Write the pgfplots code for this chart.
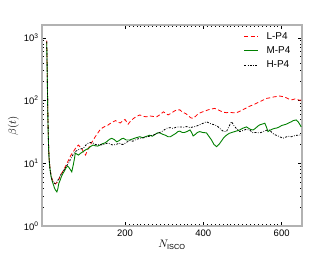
\documentclass[border=0pt]{standalone}
\usepackage{fontspec}
\setmainfont{Liberation Sans}
\usepackage{pgfplots}
\pgfplotsset{compat=1.18}
\definecolor{mplgreen}{rgb}{0,0.5,0}
\begin{document}
\begin{tikzpicture}
\begin{axis}[
  scale only axis, width=260bp, height=201bp,
  ymode=log, xmin=-12, xmax=652, ymin=1, ymax=1600,
  xtick={200,400,600}, minor x tick num=19,
  ytick={1,10,100,1000},
  yticklabels={10\textsuperscript{0},10\textsuperscript{1},10\textsuperscript{2},10\textsuperscript{3}},
  tick align=inside, ticks=both,
  major tick length=4bp, minor tick length=2bp,
  every tick/.style={black, line width=0.5pt},
  axis line style={gray!60, line width=1.3pt},
  tick label style={font=\fontsize{9.5}{11}\selectfont},
  /pgf/number format/assume math mode=true,
  xlabel={$N_{\rm ISCO}$}, ylabel={$\beta(t)$},
  label style={font=\fontsize{10.5}{12}\selectfont},
  xlabel style={yshift=3bp},
  ylabel style={yshift=-2bp},
  legend style={draw=none, fill=none, at={(0.975,0.985)}, anchor=north east,
    font=\fontsize{10}{12}\selectfont, row sep=2bp},
  legend cell align=left,
  legend image code/.code={\draw[#1] (0bp,0bp) -- (14bp,0bp); \path (20bp,0bp);},
]
\addplot[red, line width=0.8pt, dash pattern=on 4bp off 2.5bp] coordinates {
(0,900)(1,420)(2,160)(3,60)(4,30)(5,18)(6,12.5)(8,9)(11,6.5)(14,5.5)(18,5)(22,4.7)(26,4.9)(30,5.3)(36,6.5)(43,7.8)(50,9.5)(56,11.3)(62,13.5)(68,15.3)(74,17.5)(81,19.5)(86,18)(90,17)(95,14.5)(99,13.5)(104,16)(111,19.5)(118,23)(124,26.5)(130,30)(136,34)(143,37)(150,39)(155,40)(162,43)(170,46)(176,48)(182,45)(188,44)(195,48)(200,50)(208,42)(214,47)(222,52)(230,56)(238,59)(246,56)(255,55)(262,57)(270,56)(281,55)(290,60)(298,66)(305,62)(310,59)(318,63)(326,68)(333,71)(340,71)(347,65)(355,62)(362,57)(368,53)(374,52)(380,56)(385,60)(390,63)(398,66)(405,68)(412,71)(420,73)(429,75)(436,72)(444,68)(452,65)(459,64)(467,65)(475,64)(485,64)(492,67)(500,71)(508,75)(516,80)(522,83)(527,85)(535,90)(543,95)(550,100)(556,104)(561,108)(568,110)(575,112)(582,115)(589,116)(595,118)(601,116)(607,114)(613,110)(620,104)(627,103)(634,106)(640,104)(646,101)(650,102)
};
\addlegendentry{L-P4}
\addplot[mplgreen, line width=0.9pt] coordinates {
(0,850)(1,380)(2,140)(3,55)(4,28)(5,17)(6,12)(7,10)(9,7.5)(11.5,6)(14,5.2)(16,4.8)(20,4.0)(23,3.7)(26,3.5)(28,3.8)(31,4.8)(34,5.3)(37,6)(41,6.8)(45,7.5)(49,8.4)(53,9)(56,8.7)(60,8)(64,7.3)(68,9.5)(71,12)(73,14.5)(77,14)(81,13.5)(87,14.5)(94,15.5)(100,16.5)(106,17.1)(112,18.5)(118,19.5)(124,19)(130,18.8)(136,19.5)(142,20.5)(148,21)(153,22)(160,24)(166,25)(172,24)(179,22)(185,23)(191,24.5)(196,25)(203,23.5)(212,23.5)(220,24.5)(228,25.5)(238,26.5)(245,25.5)(252,26.5)(263,28)(270,27)(277,29)(283,30.5)(289,30.5)(296,29)(303,28)(310,26.5)(316,26.5)(322,28)(330,30)(335,32)(340,32.5)(346,31)(352,31)(358,32)(366,34)(370,31)(374,27.3)(380,29)(385,31)(391,32)(398,31)(408,30.5)(414,27)(421,23.5)(427,20)(434,18.4)(440,20)(446,22.5)(452,25.5)(459,28)(466,30)(473,31)(480,32)(487,33)(493,34)(500,36)(505,37)(510,38)(516,36)(521,34.5)(527,34)(533,36)(539,39)(544,41)(550,42)(557,43.5)(561,38)(565,32)(570,33.5)(576,35)(582,36)(588,36.5)(594,38)(600,40)(606,41)(612,42)(618,44)(625,46)(630,48)(637,49)(642,46)(646,42)(650,38)
};
\addlegendentry{M-P4}
\addplot[black, line width=0.8pt, dash pattern=on 2bp off 1.5bp on 0.7bp off 1.5bp] coordinates {
(0,880)(1,400)(2,150)(3,58)(4,29)(5,17.5)(6,12.3)(8,8.5)(11,6.3)(14,5.4)(18,4.9)(22,4.7)(26,5.0)(30,5.6)(36,6.6)(43,7.6)(50,9)(56,10)(62,12)(68,14)(74,15.5)(81,16.5)(88,17)(94,17.5)(100,19.5)(106,21)(112,21.5)(118,21)(124,20)(130,19.5)(136,20)(143,19.5)(150,20.5)(157,21)(163,20)(170,19.5)(178,20)(185,21)(191,20)(196,20)(203,21.5)(212,23)(220,22.5)(228,24)(238,25)(248,25.5)(256,26.5)(263,27)(270,28)(278,29)(285,30.5)(292,31.5)(300,34)(306,36)(315,37)(323,36)(330,37.5)(340,38)(350,37.5)(358,38.5)(366,37)(374,38)(382,39)(390,41)(398,43)(408,46)(414,44)(422,42)(429,41)(436,39)(444,35)(452,32)(459,32)(465,38)(472,46)(478,40)(484,36)(493,32)(500,33)(508,34.5)(518,34)(523,32)(527,30.5)(533,31)(544,30.5)(551,31.5)(558,33)(564,34)(569,34)(575,31)(580,29)(586,28)(592,27)(598,26)(603,25)(610,26)(616,27)(625,26.5)(632,27.5)(640,28)(646,28)(650,29)
};
\addlegendentry{H-P4}
\end{axis}
\useasboundingbox ([xshift=-42bp,yshift=-26bp]current axis.south west) rectangle ([xshift=34bp,yshift=25bp]current axis.north east);
\end{tikzpicture}
\end{document}
